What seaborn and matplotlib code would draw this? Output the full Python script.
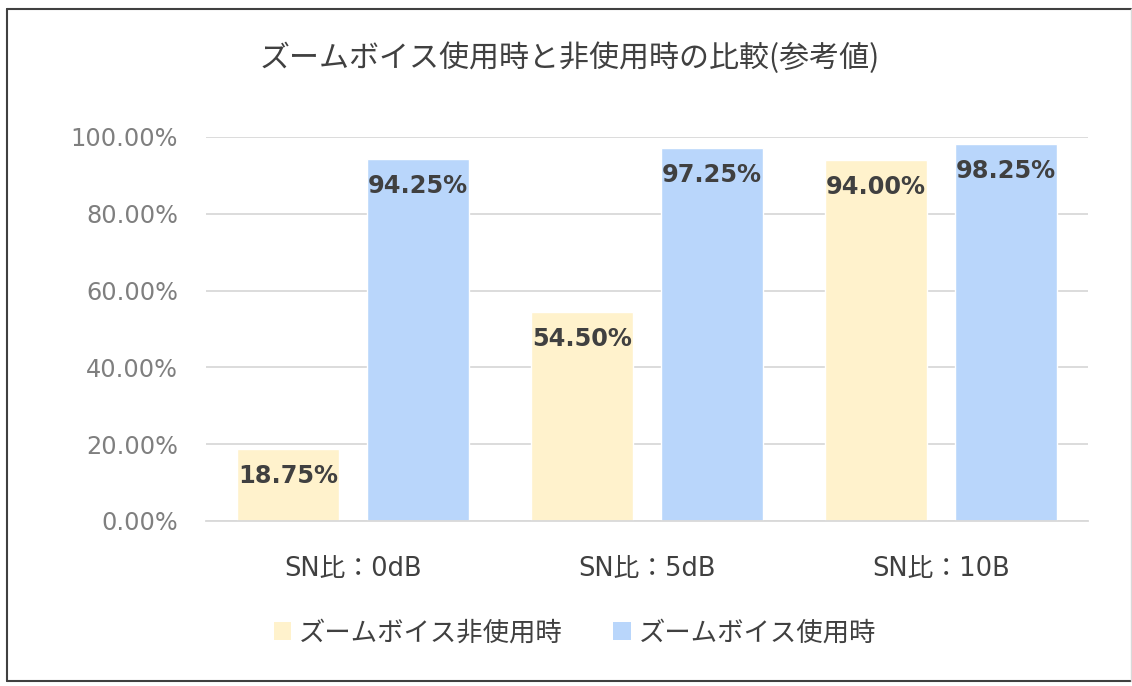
import matplotlib
matplotlib.use("Agg")
import matplotlib.pyplot as plt
import seaborn as sns
import pandas as pd
from matplotlib.lines import Line2D
from matplotlib.patches import Patch

categories = ["SN比：0dB", "SN比：5dB", "SN比：10B"]
series_names = ["ズームボイス非使用時", "ズームボイス使用時"]
values_off = [0.1875, 0.5450, 0.9400]
values_on = [0.9425, 0.9725, 0.9825]
yticks = [0.0, 0.2, 0.4, 0.6, 0.8, 1.0]
title = "ズームボイス使用時と非使用時の比較(参考値)"
colors = ["#FFF2CC", "#B9D6FB"]

sns.set_theme(style="white")
plt.rcParams["font.family"] = ["Noto Sans CJK JP", "DejaVu Sans"]

df = pd.DataFrame({
    "category": categories * 2,
    "series": [series_names[0]] * 3 + [series_names[1]] * 3,
    "value": values_off + values_on,
})

fig = plt.figure(figsize=(11.32, 6.86), dpi=100)
W, H = 1132, 686
ax = fig.add_axes([206 / W, (H - 521) / H, (1088 - 206) / W, (521 - 137) / H])

sns.barplot(data=df, x="category", y="value", hue="series", palette=colors,
            width=0.884, gap=0.215, ax=ax, legend=False, saturation=1)

ax.set_xlim(-0.5, 2.5)
ax.set_ylim(0, 1.0)
ax.set_yticks(yticks)
ax.set_yticklabels([f"{v*100:.2f}%" for v in yticks], family="DejaVu Sans",
                   fontsize=17.3, color="#7F7F7F")
ax.tick_params(axis="y", length=0, pad=20)
ax.tick_params(axis="x", length=0, pad=25)
for lab in ax.get_xticklabels():
    lab.set_family(["DejaVu Sans", "Noto Sans CJK JP"])
    lab.set_fontsize(18.5)
    lab.set_color("#404040")
ax.set_xlabel("")
ax.set_ylabel("")
ax.yaxis.grid(True, color="#D9D9D9", linewidth=1.3)
ax.set_axisbelow(True)
for s in ["top", "right", "left"]:
    ax.spines[s].set_visible(False)
ax.spines["bottom"].set_color("#D9D9D9")
ax.spines["bottom"].set_linewidth(1.3)

for cont in ax.containers:
    for bar in cont:
        h = bar.get_height()
        ax.annotate(f"{h*100:.2f}%", (bar.get_x() + bar.get_width() / 2, h),
                    xytext=(0, -27), textcoords="offset pixels",
                    ha="center", va="center", fontsize=17.3, fontweight="bold",
                    color="#404040", family="DejaVu Sans")

fig.text(570 / W, 1 - 58 / H, title, ha="center", va="center", fontsize=21.6,
         color="#404040")

handles = [Patch(facecolor=c, edgecolor="none") for c in colors]
fig.legend(handles, series_names, loc="center", bbox_to_anchor=(575 / W, 1 - 633 / H),
           ncol=2, frameon=False, fontsize=19, labelcolor="#404040",
           handlelength=0.68, handleheight=0.68, handletextpad=0.3, columnspacing=1.9)

# chart frame
fig.add_artist(Line2D([7 / W, 7 / W], [1 - 9 / H, 1 - 681 / H], color="#404040", lw=1.5))
fig.add_artist(Line2D([7 / W, 1131 / W], [1 - 9 / H, 1 - 9 / H], color="#404040", lw=1.5))
fig.add_artist(Line2D([7 / W, 1131 / W], [1 - 681 / H, 1 - 681 / H], color="#404040", lw=1.5))
fig.add_artist(Line2D([1131 / W, 1131 / W], [1 - 9 / H, 1 - 681 / H], color="#D9D9D9", lw=1.0))

fig.savefig("out.png", dpi=100)
